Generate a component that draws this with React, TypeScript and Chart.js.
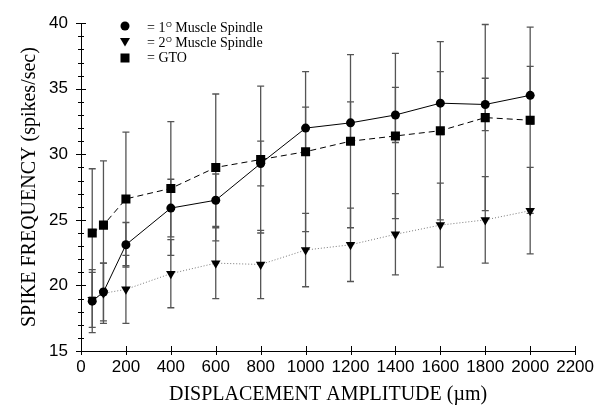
import React, { useEffect, useRef } from 'react';
import { Chart, registerables } from 'chart.js';

Chart.register(...registerables);

// ---- data ----
const displacement = [50, 100, 200, 400, 600, 800, 1000, 1200, 1400, 1600, 1800, 2000];
const primarySpindle = [18.8, 19.5, 23.1, 25.9, 26.5, 29.3, 32.0, 32.4, 33.0, 33.9, 33.8, 34.5];
const primaryErr = [2.4, 2.2, 1.7, 2.2, 2.0, 1.7, 1.6, 1.6, 2.1, 2.4, 2.0, 2.2];
const secondarySpindle = [18.9, 19.4, 19.7, 20.9, 21.7, 21.6, 22.7, 23.1, 23.9, 24.6, 25.0, 25.7];
const secondaryErr = [2.1, 2.3, 2.6, 2.6, 2.7, 2.6, 2.8, 2.8, 3.1, 3.2, 3.3, 3.3];
const gto = [24.0, 24.6, 26.6, 27.4, 29.0, 29.6, 30.2, 31.0, 31.4, 31.8, 32.8, 32.6];
const gtoErr = [4.9, 4.9, 5.1, 5.1, 5.6, 5.6, 6.1, 6.6, 6.3, 6.8, 7.1, 7.1];

const legendMain = ['= 1', '= 2', '= GTO'];
const legendSup = ['O', 'O', ''];
const legendRest = [' Muscle Spindle', ' Muscle Spindle', ''];

const xTitle = 'DISPLACEMENT AMPLITUDE (\u00b5m)';
const yTitle = 'SPIKE FREQUENCY (spikes/sec)';

const toPoints = (vals: number[]) => displacement.map((x, i) => ({ x, y: vals[i] }));

export default function App() {
  const ref = useRef<HTMLCanvasElement>(null);

  useEffect(() => {
    document.body.style.margin = '0';
    const canvas = ref.current!;

    const errorSets = [
      { vals: gto, err: gtoErr },
      { vals: secondarySpindle, err: secondaryErr },
      { vals: primarySpindle, err: primaryErr },
    ];

    const errorBars = {
      id: 'errorBars',
      beforeDatasetsDraw(chart: any) {
        const { ctx, scales } = chart;
        const xs = scales.x, ys = scales.y;
        ctx.save();
        ctx.strokeStyle = '#555';
        ctx.lineWidth = 1.3;
        errorSets.forEach((s) => {
          displacement.forEach((d, i) => {
            const v = s.vals[i];
            const e = s.err[i];
            if (v == null) return;
            const px = xs.getPixelForValue(d);
            const top = ys.getPixelForValue(v + e);
            const bot = ys.getPixelForValue(v - e);
            ctx.beginPath();
            ctx.moveTo(px, top);
            ctx.lineTo(px, bot);
            ctx.moveTo(px - 3.5, top);
            ctx.lineTo(px + 3.5, top);
            ctx.moveTo(px - 3.5, bot);
            ctx.lineTo(px + 3.5, bot);
            ctx.stroke();
          });
        });
        ctx.restore();
      },
    };

    const axisTicks = {
      id: 'axisTicks',
      afterDraw(chart: any) {
        const { ctx, scales } = chart;
        const xs = scales.x, ys = scales.y;
        ctx.save();
        ctx.strokeStyle = '#000';
        ctx.lineWidth = 1;
        const left = ys.right;
        ys.ticks.forEach((t: any) => {
          const py = Math.round(ys.getPixelForValue(t.value)) + 0.5;
          const major = t.value % 5 === 0;
          const len = major ? 5 : 3;
          ctx.beginPath();
          ctx.moveTo(left - len, py);
          ctx.lineTo(left + len, py);
          ctx.stroke();
        });
        const bottom = xs.top;
        xs.ticks.forEach((t: any) => {
          const px = Math.round(xs.getPixelForValue(t.value)) + 0.5;
          ctx.beginPath();
          ctx.moveTo(px, bottom - 5);
          ctx.lineTo(px, bottom + 4);
          ctx.stroke();
        });
        ctx.restore();
      },
    };

    const legendPlugin = {
      id: 'customLegend',
      afterDraw(chart: any) {
        const { ctx } = chart;
        ctx.save();
        const mx = 125;
        const markerY = [26, 42, 58];
        const baseY = [32, 47, 61.5];
        ctx.fillStyle = '#000';
        ctx.beginPath();
        ctx.arc(mx, markerY[0], 4.5, 0, Math.PI * 2);
        ctx.fill();
        ctx.beginPath();
        ctx.moveTo(mx - 5, markerY[1] - 4);
        ctx.lineTo(mx + 5, markerY[1] - 4);
        ctx.lineTo(mx, markerY[1] + 4.5);
        ctx.closePath();
        ctx.fill();
        ctx.fillRect(mx - 4.5, markerY[2] - 4.5, 9, 9);

        ctx.textBaseline = 'alphabetic';
        ctx.textAlign = 'left';
        legendMain.forEach((m, i) => {
          let x = 147;
          ctx.font = '14px "Liberation Serif"';
          ctx.fillText(m, x, baseY[i]);
          x += ctx.measureText(m).width;
          if (legendSup[i]) {
            ctx.font = '7.5px "Liberation Sans"';
            ctx.fillText(legendSup[i], x + 0.5, baseY[i] - 5.5);
            x += ctx.measureText(legendSup[i]).width + 0.5;
          }
          if (legendRest[i]) {
            ctx.font = '14px "Liberation Serif"';
            ctx.fillText(legendRest[i], x, baseY[i]);
          }
        });
        ctx.restore();
      },
    };

    const chart = new Chart(canvas, {
      type: 'line',
      data: {
        datasets: [
          {
            label: '1 Muscle Spindle',
            data: toPoints(primarySpindle),
            borderColor: '#000',
            borderWidth: 1,
            pointStyle: 'circle',
            pointRadius: 4.5,
            pointBackgroundColor: '#000',
            pointBorderColor: '#000',
            pointBorderWidth: 0,
          },
          {
            label: 'GTO',
            data: toPoints(gto),
            borderColor: '#000',
            borderWidth: 1,
            borderDash: [6, 4],
            pointStyle: 'rect',
            pointRadius: 6.4,
            pointBackgroundColor: '#000',
            pointBorderColor: '#000',
            pointBorderWidth: 0,
          },
          {
            label: '2 Muscle Spindle',
            data: toPoints(secondarySpindle),
            borderColor: '#777',
            borderWidth: 1,
            borderDash: [1, 2],
            pointStyle: 'triangle',
            pointRotation: 180,
            pointRadius: 5.5,
            pointBackgroundColor: '#000',
            pointBorderColor: '#000',
            pointBorderWidth: 0,
          },
        ],
      },
      options: {
        responsive: false,
        animation: false,
        devicePixelRatio: 1,
        layout: { autoPadding: false, padding: { top: 13, right: 22, left: 0, bottom: 0 } },
        plugins: {
          legend: { display: false },
          tooltip: { enabled: false },
        },
        elements: { line: { tension: 0 } },
        scales: {
          x: {
            type: 'linear',
            min: 0,
            max: 2200,
            afterFit: (s: any) => { s.height = 59; },
            ticks: {
              stepSize: 200,
              autoSkip: false,
              maxRotation: 0,
              padding: 6,
              color: '#000',
              font: { family: '"Liberation Sans"', size: 17 },
              callback: (v: any) => String(v),
            },
            grid: { display: false, drawTicks: false },
            border: { display: true, color: '#000', width: 1 },
            title: {
              display: true,
              text: xTitle,
              color: '#000',
              font: { family: '"Liberation Serif"', size: 20 },
              padding: { top: 0, bottom: 3 },
            },
          },
          y: {
            type: 'linear',
            min: 15,
            max: 40,
            afterFit: (s: any) => { s.width = 81; },
            ticks: {
              stepSize: 1,
              autoSkip: false,
              padding: 13,
              color: '#000',
              font: { family: '"Liberation Sans"', size: 17 },
              callback: (v: any) => (Number(v) % 5 === 0 ? String(v) : ''),
            },
            grid: { display: false, drawTicks: false },
            border: { display: true, color: '#000', width: 1 },
            title: {
              display: true,
              text: yTitle,
              color: '#000',
              font: { family: '"Liberation Serif"', size: 20 },
              padding: { top: 18, bottom: 0 },
            },
          },
        },
      },
      plugins: [errorBars, axisTicks, legendPlugin],
    });

    return () => chart.destroy();
  }, []);

  return (
    <div style={{ width: 600, height: 410 }}>
      <canvas ref={ref} width={600} height={410} />
    </div>
  );
}
